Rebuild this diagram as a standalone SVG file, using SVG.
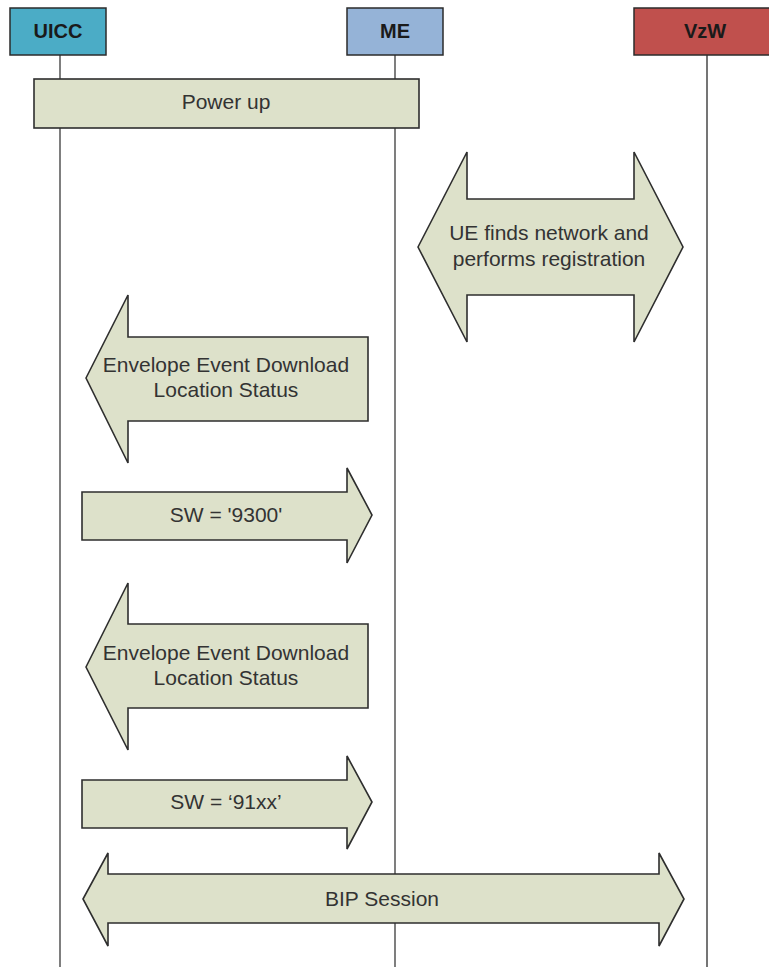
<svg xmlns="http://www.w3.org/2000/svg" width="769" height="967" viewBox="0 0 769 967">
<style>
.life{stroke:#3a3a3a;stroke-width:1.3;fill:none}
.hdr{stroke:#2b2b2b;stroke-width:1.5}
.hl{font-family:"Liberation Sans",Arial,sans-serif;font-size:20px;font-weight:bold;fill:#1a1a1a;text-anchor:middle}
.arr{fill:#dde1ca;stroke:#2e2e2e;stroke-width:1.6;stroke-linejoin:miter}
.t{font-family:"Liberation Sans",Arial,sans-serif;font-size:21px;fill:#333;text-anchor:middle}
</style>
<rect width="769" height="967" fill="#fff"/>
<g id="lifelines">
<line class="life" x1="60" y1="55" x2="60" y2="967"/>
<line class="life" x1="395" y1="55" x2="395" y2="967"/>
<line class="life" x1="707" y1="55" x2="707" y2="967" style="stroke:#666;stroke-width:1.8"/>
</g>
<g id="uicc"><rect class="hdr" x="10" y="8" width="96" height="47" fill="#4bacc6"/><text class="hl" x="58" y="38">UICC</text></g>
<g id="me"><rect class="hdr" x="347" y="8" width="96" height="47" fill="#95b3d7"/><text class="hl" x="395" y="38">ME</text></g>
<g id="vzw"><rect class="hdr" x="634" y="8" width="142" height="47" fill="#c0504d"/><text class="hl" x="705" y="38">VzW</text></g>
<g id="powerup"><rect class="arr" x="34" y="79" width="385" height="49"/><text class="t" x="226" y="109">Power up</text></g>
<g id="connectors">
<g id="registration"><path class="arr" d="M418,247 L467,152 L467,199 L634,199 L634,152 L683,247 L634,342 L634,295 L467,295 L467,342 Z"/><text class="t" x="549" y="240">UE finds network and</text><text class="t" x="549" y="266">performs registration</text></g>
<g id="envelope1"><path class="arr" d="M86,378 L128,295 L128,337 L368,337 L368,421 L128,421 L128,463 Z"/><text class="t" x="226" y="372">Envelope Event Download</text><text class="t" x="226" y="397">Location Status</text></g>
<g id="sw9300"><path class="arr" d="M82,492 L347,492 L347,468 L372,515 L347,563 L347,540 L82,540 Z"/><text class="t" x="226" y="522">SW = '9300'</text></g>
<g id="envelope2"><path class="arr" d="M86,667 L128,583 L128,624 L368,624 L368,708 L128,708 L128,750 Z"/><text class="t" x="226" y="660">Envelope Event Download</text><text class="t" x="226" y="685">Location Status</text></g>
<g id="sw91xx"><path class="arr" d="M82,780 L347,780 L347,756 L372,802 L347,849 L347,828 L82,828 Z"/><text class="t" x="226" y="809">SW = ‘91xx’</text></g>
<g id="bip"><path class="arr" d="M83,899 L108,853 L108,874 L659,874 L659,853 L684,899 L659,946 L659,923 L108,923 L108,946 Z"/><text class="t" x="382" y="906">BIP Session</text></g>
</g>
</svg>
